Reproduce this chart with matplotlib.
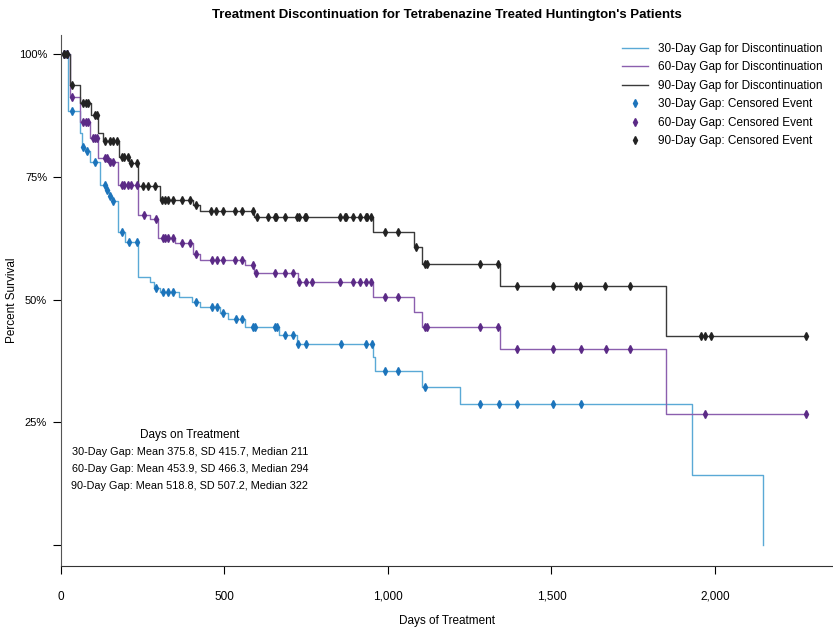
import numpy as np
import matplotlib
matplotlib.use("Agg")
import matplotlib.pyplot as plt
from matplotlib.ticker import FuncFormatter

plt.rcParams['font.family'] = ['Liberation Sans', 'DejaVu Sans']

# --- step curves: (day of event, survival % after event) ---
t30 = [0, 21, 58, 64, 73, 89, 119, 138, 147, 156, 174, 196, 235, 272, 284, 303, 361,
       401, 425, 486, 511, 563, 667, 722, 954, 960, 1104, 1220, 1930, 2147]
s30 = [100, 88.4, 84, 81, 80.3, 78, 73.4, 72.4, 71, 70, 63.8, 61.8, 54.5, 53.5, 52.4, 51.6, 50.6,
       49.4, 48.4, 47.2, 46.1, 44.5, 42.7, 40.9, 38.2, 35.4, 32.2, 28.7, 14.2, 0]
c30 = [9, 18, 34, 67, 80, 104, 135, 141, 150, 159, 187, 208, 232, 291, 312, 327, 343, 413,
       462, 477, 495, 535, 554, 587, 593, 654, 661, 685, 709, 725, 749, 856, 933, 951,
       991, 1031, 1113, 1281, 1339, 1394, 1505, 1590]

t60 = [0, 27, 58, 89, 113, 144, 174, 235, 272, 297, 349, 404, 425, 563, 590, 725,
       954, 1080, 1104, 1343, 1850, 2278]
s60 = [100, 91.3, 86.2, 83, 78.9, 78, 73.4, 67.3, 66.4, 62.6, 61.6, 59.3, 58.1, 57.0, 55.5, 53.5,
       50.6, 47.5, 44.5, 40, 26.6, 26.6]
c60 = [9, 18, 34, 67, 76, 83, 98, 104, 110, 135, 141, 150, 159, 187, 193, 205, 214, 232,
       254, 291, 312, 318, 327, 343, 370, 394, 413, 462, 477, 495, 532, 554, 587,
       596, 654, 685, 709, 728, 749, 768, 853, 893, 914, 933, 948, 991, 1031,
       1113, 1119, 1281, 1336, 1394, 1505, 1590, 1667, 1740, 1969, 2278]

t90 = [0, 27, 58, 92, 113, 128, 177, 208, 235, 303, 404, 425, 590, 954, 1080, 1104,
       1343, 1850, 2278]
s90 = [100, 93.7, 90, 87.6, 84, 82.3, 79, 77.8, 73.2, 70.3, 69.3, 68, 66.9, 63.8, 60.6, 57.3,
       52.8, 42.5, 42.5]
c90 = [9, 18, 34, 67, 76, 83, 104, 110, 135, 150, 159, 171, 187, 193, 205, 214, 232, 251,
       266, 287, 309, 318, 327, 343, 370, 394, 413, 459, 474, 495, 532, 554, 587,
       599, 633, 654, 657, 685, 722, 728, 746, 749, 853, 869, 872, 893, 914, 933, 936, 948,
       991, 1031, 1086, 1113, 1119, 1281, 1336, 1394, 1505, 1575, 1587, 1664, 1740,
       1957, 1969, 1988, 2278]

labels = ["30-Day", "60-Day", "90-Day"]
line_colors = ["#5aa9d6", "#8b5fae", "#3a3a3a"]
mark_colors = ["#1c74bb", "#5b2a86", "#222222"]

stats = ["30-Day Gap: Mean 375.8, SD 415.7, Median 211",
         "60-Day Gap: Mean 453.9, SD 466.3, Median 294",
         "90-Day Gap: Mean 518.8, SD 507.2, Median 322"]

fig = plt.figure(figsize=(8.33, 6.3), dpi=100)
ax = fig.add_axes([0.0732, 0.1016, 0.9268, 0.843])

curves = [(t30, s30, c30), (t60, s60, c60), (t90, s90, c90)]
for (t, s, c), lab, lc in zip(curves, labels, line_colors):
    ax.step(t, s, where="post", color=lc, lw=1.0,
            label=f"{lab} Gap for Discontinuation")
for (t, s, c), lab, mc in zip(curves, labels, mark_colors):
    idx = np.searchsorted(t, c, side="right") - 1
    ax.plot(c, np.array(s)[idx], ls="none", marker="d", ms=3.6, color=mc,
            label=f"{lab} Gap: Censored Event")

ax.set_xlim(0, 2361)
ax.set_ylim(-4.27, 103.9)
ax.set_xticks([0, 500, 1000, 1500, 2000])
ax.xaxis.set_major_formatter(FuncFormatter(lambda v, p: f"{int(v):,}"))
ax.set_yticks([0, 25, 50, 75, 100])
ax.set_yticklabels(["", "25%", "50%", "75%", "100%"])
ax.tick_params(axis="x", length=6, pad=12, labelsize=8.5)
ax.tick_params(axis="y", length=6, pad=4, labelsize=8)
for sp in ["top", "right"]:
    ax.spines[sp].set_visible(False)
ax.spines["left"].set_color("#555555")
ax.spines["bottom"].set_color("#333333")

fig.text(0.537, 0.004, "Days of Treatment", ha="center", va="bottom", fontsize=8.5)
fig.text(0.015, 0.524, "Percent Survival", ha="center", va="center",
         rotation=90, fontsize=8.5)
fig.suptitle("Treatment Discontinuation for Tetrabenazine Treated Huntington's Patients",
             x=0.537, y=0.985, fontsize=9.5, fontweight="bold")

ax.text(394, 22.5, "Days on Treatment", ha="center", va="center", fontsize=8.5)
for i, line in enumerate(stats):
    ax.text(394, 19 - 3.45 * i, line, ha="center", va="center", fontsize=7.8)

ax.legend(loc="upper right", bbox_to_anchor=(1.0, 1.005), frameon=False, fontsize=8.5,
          handlelength=2.2, labelspacing=0.55, handletextpad=0.8)

fig.savefig("out.png", dpi=100)
